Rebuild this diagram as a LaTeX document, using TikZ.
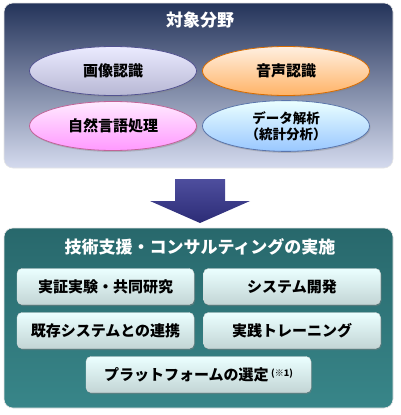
\documentclass[tikz,border=0pt]{standalone}
\usepackage{fontspec}
\setmainfont{Noto Sans CJK JP}
\usepackage{xcolor}
\usetikzlibrary{shapes.geometric, shadows, positioning}
\definecolor{navytop}{RGB}{36,52,90}
\definecolor{navybot}{RGB}{212,218,238}
\definecolor{tealtop}{RGB}{40,104,108}
\definecolor{tealbot}{RGB}{56,134,137}
\definecolor{arrowtop}{RGB}{78,78,158}
\definecolor{arrowbot}{RGB}{44,44,118}

\begin{document}
\begin{tikzpicture}[x=1pt, y=-1pt,
    font=\bfseries\fontsize{15}{18}\selectfont,
    panel/.style={rounded corners=9pt, minimum width=389pt, draw=white!80!gray, line width=0.6pt},
    ttl/.style={text=white, font=\bfseries\fontsize{17}{20}\selectfont},
    ov/.style={ellipse, minimum width=167pt, minimum height=49pt, line width=0.8pt,
      drop shadow={opacity=0.35, shadow xshift=1pt, shadow yshift=-1.5pt}},
    bx/.style={rounded corners=5pt, minimum width=177pt, minimum height=36pt,
      top color=white!92!cyan, bottom color=cyan!18!gray!40, draw=white!70!gray, line width=0.4pt,
      drop shadow={opacity=0.45, shadow xshift=1pt, shadow yshift=-1.5pt}}]
    \useasboundingbox (0,0) rectangle (400,415);
    % upper panel
    \node[panel, minimum height=165pt, top color=navytop, bottom color=navybot] (area) at (198.5,85.5) {};
    \node[ttl] (areattl) at (200,20) {対象分野};
    \node[ov, draw=black!30!blue!35!gray, top color=white!92!blue, bottom color=blue!25!gray!45] (img) at (113,71) {画像認識};
    \node[ov, draw=orange!85!black, top color=orange!12!white, bottom color=orange!60!white] (snd) at (286,71) {音声認識};
    \node[ov, draw=magenta!50!gray, top color=magenta!8!white, bottom color=magenta!40!white] (nlp) at (113,126) {自然言語処理};
    \node[ov, draw=cyan!40!blue!60!gray, top color=cyan!8!white, bottom color=cyan!45!blue!40!white,
      align=center, font=\bfseries\fontsize{13.5}{16}\selectfont] (dat) at (286,126) {データ解析\\（統計分析）};
    % arrow
    \shade[top color=arrowtop, bottom color=arrowbot]
      (175,179) -- (225,179) -- (225,201) -- (250,201) -- (200,223) -- (150,201) -- (175,201) -- cycle;
    % lower panel
    \node[panel, minimum height=180pt, top color=tealtop, bottom color=tealbot] (tech) at (198.5,318) {};
    \node[ttl] (techttl) at (200,247) {技術支援・コンサルティングの実施};
    \node[bx] (poc) at (105.5,286.5) {実証実験・共同研究};
    \node[bx] (dev) at (292,286.5) {システム開発};
    \node[bx] (lnk) at (105.5,330.5) {既存システムとの連携};
    \node[bx] (trn) at (292,330.5) {実践トレーニング};
    \node[bx, minimum width=225pt] (plt) at (198.5,374.5) {プラットフォームの選定\,\raisebox{4pt}{\fontsize{9}{10}\selectfont(※1)}};
\end{tikzpicture}
\end{document}
